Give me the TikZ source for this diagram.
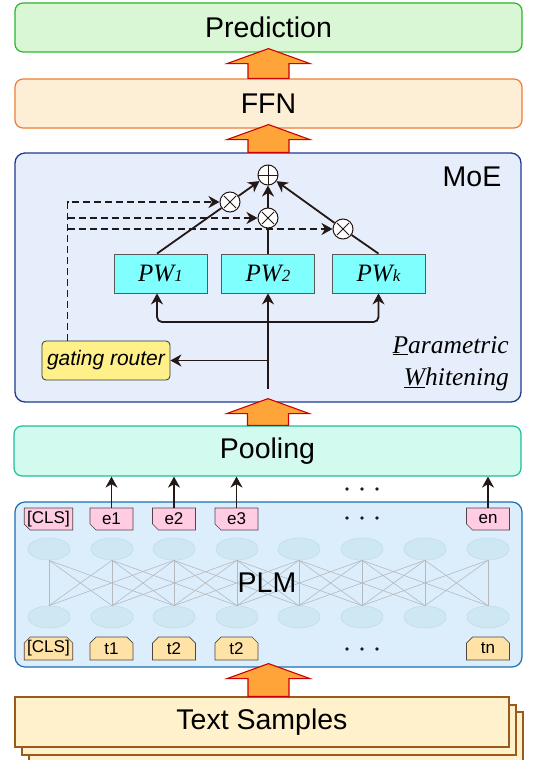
\documentclass[tikz,border=0pt]{standalone}
\usepackage{fontspec}
\setmainfont{Liberation Sans}
\newfontfamily\tnr{Liberation Serif}
\usetikzlibrary{shapes.geometric,shapes.misc,arrows.meta,calc}
\definecolor{predF}{HTML}{DAF7D5}\definecolor{predD}{HTML}{2DB52D}
\definecolor{ffnF}{HTML}{FCEFD6}\definecolor{ffnD}{HTML}{F07C34}
\definecolor{moeF}{HTML}{E6EEFC}\definecolor{moeD}{HTML}{1F3A93}
\definecolor{poolF}{HTML}{D3FAEE}\definecolor{poolD}{HTML}{1DBF99}
\definecolor{plmF}{HTML}{DCEEFC}\definecolor{plmD}{HTML}{1B6FB5}
\definecolor{neurF}{HTML}{CDE8F3}\definecolor{neurD}{HTML}{C2DCE8}
\definecolor{nnline}{HTML}{B5B9BE}
\definecolor{eF}{HTML}{FFCCE4}\definecolor{tF}{HTML}{FFE2A6}
\definecolor{tsF}{HTML}{FFF1CC}\definecolor{tsD}{HTML}{9A5A1A}
\definecolor{arrF}{HTML}{FFA438}\definecolor{arrD}{HTML}{CC0000}
\definecolor{pwF}{HTML}{80FFFF}\definecolor{gateF}{HTML}{FFF08A}
\definecolor{ink}{HTML}{231815}
\newcommand\bigarr[2]{\draw[bigarrow] let \p1=(#1.north), \p2=(#2.south) in
  (\x2-20.5pt,\y1) -- (\x2-20.5pt,\y2-11pt) -- (\x2-41.5pt,\y2-11pt) -- (\x2,\y2+4pt)
  -- (\x2+41.5pt,\y2-11pt) -- (\x2+20.5pt,\y2-11pt) -- (\x2+20.5pt,\y1) -- cycle;}
\begin{document}
\begin{tikzpicture}[x=1pt,y=-1pt,
  bigbox/.style={draw, rounded corners=8pt, line width=1.2pt, minimum height=49pt, inner sep=0pt, font=\fontsize{28.5}{28.5}\selectfont},
  bigarrow/.style={draw=arrD, fill=arrF, line width=1.1pt, line join=miter},
  tsbox/.style={draw=tsD, fill=tsF, line width=1.2pt, minimum width=494pt, minimum height=50pt, inner sep=0pt, font=\fontsize{28.5}{28.5}\selectfont},
  neuron/.style={ellipse, draw=neurD, fill=neurF, minimum width=42pt, minimum height=22pt, inner sep=0pt, line width=0.6pt},
  nn/.style={draw=nnline, line width=0.6pt},
  ebox/.style={chamfered rectangle, chamfered rectangle corners=south west, chamfered rectangle xsep=3pt, chamfered rectangle ysep=3pt, draw=ink!80, fill=eF, minimum width=43pt, minimum height=22pt, inner sep=0pt, line width=0.7pt, font=\fontsize{17}{17}\selectfont},
  tbox/.style={chamfered rectangle, chamfered rectangle corners={north west,north east}, chamfered rectangle xsep=3pt, chamfered rectangle ysep=3pt, draw=ink!80, fill=tF, minimum width=43pt, minimum height=23pt, inner sep=0pt, line width=0.7pt, font=\fontsize{17}{17}\selectfont},
  pwbox/.style={draw=black!65, fill=pwF, minimum width=93pt, minimum height=39pt, inner sep=0pt, line width=0.8pt},
  opnode/.style={circle, draw=ink, fill=white, minimum size=20pt, inner sep=0pt, line width=1pt},
  sline/.style={draw=ink, line width=1.8pt, -{Stealth[length=11pt,width=12pt,inset=3.5pt]}},
  pline/.style={draw=ink, line width=1.8pt},
  dline/.style={draw=ink, line width=1.6pt, dash pattern=on 7pt off 4pt, -{Stealth[length=11pt,width=12pt,inset=3.5pt]}},
  gatebox/.style={draw=black!80, fill=gateF, rounded corners=4pt, line width=0.8pt, minimum width=128pt, minimum height=39pt, inner sep=0pt, font=\fontsize{21}{21}\selectfont\itshape}
]
\useasboundingbox (0,0) rectangle (534,760);

% top boxes
\node[bigbox, draw=predD, fill=predF, minimum width=507pt] (pred) at (268.5,27.5) {Prediction};
\node[bigbox, draw=ffnD, fill=ffnF, minimum width=507pt] (ffn) at (268.5,103.5) {FFN};

% MoE
\node[draw=moeD, fill=moeF, rounded corners=10pt, line width=1.3pt, minimum width=506pt, minimum height=249pt, inner sep=0pt] (moe) at (268,277.5) {};
\node[font=\fontsize{28.5}{28.5}\selectfont, inner sep=0pt] (moelbl) at (472,177) {MoE};

\node[pwbox] (pw1) at (160.5,273.5) {\tnr\itshape\fontsize{25}{25}\selectfont PW\fontsize{17}{17}\selectfont 1};
\node[pwbox] (pw2) at (268,273.5) {\tnr\itshape\fontsize{25}{25}\selectfont PW\fontsize{17}{17}\selectfont 2};
\node[pwbox] (pwk) at (378.5,273.5) {\tnr\itshape\fontsize{25}{25}\selectfont PW\fontsize{17}{17}\selectfont k};

\node[opnode, path picture={\draw[ink, line width=1pt]
   (path picture bounding box.north) -- (path picture bounding box.south)
   (path picture bounding box.west) -- (path picture bounding box.east);}] (plus) at (268,175) {};
\tikzset{crossop/.style={opnode, path picture={\draw[ink, line width=1pt]
   ($(path picture bounding box.center)+(-6,-6)$) -- ($(path picture bounding box.center)+(6,6)$)
   ($(path picture bounding box.center)+(-6,6)$) -- ($(path picture bounding box.center)+(6,-6)$);}}}
\node[crossop] (m1) at (230,202) {};
\node[crossop] (m2) at (268,218) {};
\node[crossop] (m3) at (343,229) {};

\node[gatebox] (gate) at (106,360.5) {gating router};

\node[anchor=base east, inner sep=0pt, font=\tnr\itshape\fontsize{25.5}{25.5}\selectfont] (param) at (509,353) {\underline{P}arametric};
\node[anchor=base east, inner sep=0pt, font=\tnr\itshape\fontsize{25.5}{25.5}\selectfont] (whiten) at (509,385) {\underline{W}hitening};

% MoE connectors
\draw[pline] ([xshift=-3.5pt]pw1.north) -- (m1);
\draw[sline] (m1) -- (plus);
\draw[pline] (pw2.north) -- (m2);
\draw[sline] (m2) -- (plus);
\draw[pline] (pwk.north) -- (m3);
\draw[sline] (m3) -- (plus);

\coordinate (gd) at ([xshift=26pt]gate.north west);
\draw[dline] (gd) |- (m1);
\draw[dline] (gd |- m2) -- (m2);
\draw[dline] (gd |- m3) -- (m3);

\coordinate (mb) at (268,389);
\coordinate (br) at (268,322);
\draw[sline] (mb) -- (pw2.south);
\draw[sline, rounded corners=5pt] (br) -| ([xshift=-3.5pt]pw1.south);
\draw[sline, rounded corners=5pt] (br) -| (pwk.south);
\draw[sline] (mb |- gate.east) -- (gate.east);

% Pooling
\node[bigbox, draw=poolD, fill=poolF, minimum width=507pt, minimum height=50pt] (pool) at (267.5,451) {Pooling};

% PLM
\node[draw=plmD, fill=plmF, rounded corners=10pt, line width=1.2pt, minimum width=507pt, minimum height=165pt, inner sep=0pt] (plm) at (268.5,584.5) {};

\foreach \i/\x in {0/49,1/112,2/174,3/237,4/299,5/362,6/425,7/488}{
  \node[neuron] (u\i) at (\x,549) {};
  \node[neuron] (d\i) at (\x,617) {};
}
\foreach \i in {0,...,7}{
  \foreach \j in {0,...,7}{
    \pgfmathtruncatemacro\dd{abs(\i-\j)}
    \ifnum\dd<3 \draw[nn] (u\i.south) -- (d\j.north); \fi
  }
}
\node[font=\fontsize{28.5}{28.5}\selectfont, inner sep=0pt] (plmlbl) at (267,583) {PLM};

\node[ebox] (ecls) at (48.5,519) {[CLS]};
\node[ebox] (e1) at (111.5,519) {e1};
\node[ebox] (e2) at (174,519) {e2};
\node[ebox] (e3) at (236.5,519) {e3};
\node[ebox] (en) at (488,519) {en};
\foreach \x in {347,362,377} \fill[ink] (\x,518) circle (1.8pt);

\node[tbox] (tcls) at (48.5,648.5) {[CLS]};
\node[tbox] (t1) at (111.5,648.5) {t1};
\node[tbox] (t2) at (174,648.5) {t2};
\node[tbox] (t3) at (236.5,648.5) {t2};
\node[tbox] (tn) at (488,648.5) {tn};
\foreach \x in {347,362,377} \fill[ink] (\x,649) circle (1.8pt);

\foreach \e in {e1,e2,e3,en} \draw[sline] (\e.north) -- (\e.north |- pool.south);
\foreach \x in {347,362,377} \fill[ink] (\x,489) circle (1.8pt);

% Text samples stack
\node[tsbox] (ts3) at (276,737) {};
\node[tsbox] (ts2) at (269,730) {};
\node[tsbox] (ts) at (262,722) {Text Samples};

% big arrows
\bigarr{ffn}{pred}
\bigarr{moe}{ffn}
\bigarr{pool}{moe}
\bigarr{ts}{plm}
\end{tikzpicture}
\end{document}
